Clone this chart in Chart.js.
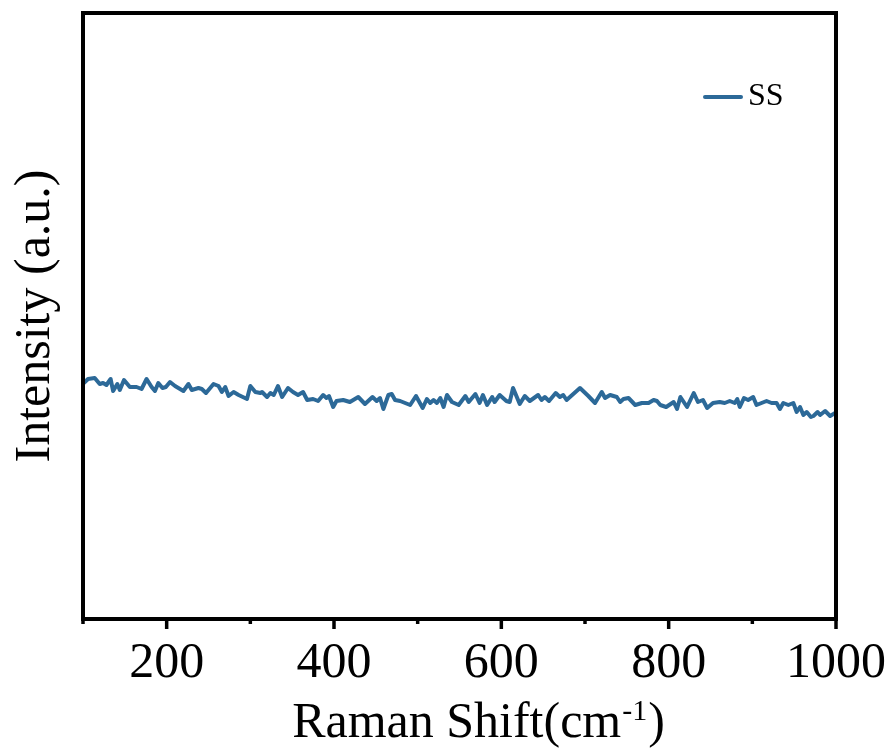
<!DOCTYPE html>
<html>
<head>
<meta charset="utf-8">
<script src="https://cdn.jsdelivr.net/npm/chart.js@4/dist/chart.umd.min.js"></script>
<style>
  html, body { margin: 0; padding: 0; background: #fff; }
  #wrap { width: 894px; height: 755px; }
</style>
</head>
<body>
<div id="wrap"><canvas id="c" width="894" height="755"></canvas></div>
<script>
// Raman spectrum of SS, x in cm-1, y in arbitrary units
const shift = [
  101, 106, 114, 120, 124, 128, 133, 136, 141, 144, 149, 156, 164, 170, 176, 182, 186, 190, 195, 199,
  204, 210, 220, 226, 230, 238, 242, 247, 256, 262, 266, 270, 274, 280, 286, 296, 300, 306, 312, 314,
  320, 324, 328, 333, 338, 345, 351, 357, 363, 368, 375, 381, 387, 391, 394, 399, 403, 411, 419, 427,
  429, 437, 446, 451, 455, 459, 465, 469, 473, 479, 491, 498, 506, 511, 515, 519, 523, 527, 531, 535,
  541, 549, 557, 561, 569, 574, 578, 583, 589, 592, 598, 606, 610, 614, 622, 628, 634, 644, 648, 652,
  657, 665, 670, 674, 678, 694, 704, 712, 720, 724, 730, 738, 742, 746, 752, 760, 768, 776, 782, 786,
  790, 797, 806, 810, 814, 822, 830, 835, 841, 846, 853, 861, 867, 873, 879, 882, 885, 890, 895, 901,
  905, 911, 917, 923, 929, 933, 937, 943, 949, 953, 957, 961, 965, 970, 973, 978, 981, 987, 993, 999
];
const intensity = [
  236, 240, 241, 235, 236, 234, 240, 228, 235, 229, 239, 232, 232, 230, 240, 232, 228, 236, 231, 232,
  237, 233, 228, 235, 229, 231, 230, 226, 235, 233, 227, 232, 223, 227, 224, 220, 233, 227, 226, 227,
  222, 226, 224, 233, 222, 231, 227, 224, 227, 219, 220, 218, 224, 221, 223, 212, 218, 219, 217, 221,
  222, 215, 222, 218, 221, 210, 224, 225, 219, 218, 214, 223, 211, 220, 216, 219, 216, 221, 212, 224,
  217, 214, 223, 217, 225, 216, 224, 214, 222, 217, 224, 218, 217, 231, 215, 223, 218, 224, 219, 222,
  218, 226, 222, 224, 219, 231, 223, 216, 227, 221, 224, 222, 217, 220, 221, 214, 216, 216, 219, 218,
  214, 212, 217, 210, 222, 212, 226, 217, 219, 211, 216, 217, 216, 218, 216, 220, 212, 221, 219, 222,
  214, 216, 218, 216, 216, 210, 216, 214, 216, 207, 212, 204, 207, 202, 203, 207, 204, 208, 203, 206
];
const seriesName = "SS";
const xMin = 100, xMax = 1000, xStep = 100;
const yMin = 0, yMax = 606;

const LINE = "#2c6998";
const SERIF = "'Liberation Serif', 'Times New Roman', serif";

// frame, outward ticks (long at 200s, short at odd hundreds), legend and the x title with superscript
const decor = {
  id: "decor",
  afterDatasetsDraw(chart) {
    const g = chart.ctx, a = chart.chartArea, xs = chart.scales.x;
    g.save();
    g.strokeStyle = "#000";
    g.lineWidth = 4;
    g.strokeRect(a.left, a.top, a.right - a.left, a.bottom - a.top);
    g.lineWidth = 3.5;
    for (let v = xMin; v <= xMax; v += xStep) {
      const px = xs.getPixelForValue(v);
      const len = v % 200 === 0 ? 10 : 5;
      g.beginPath();
      g.moveTo(px, a.bottom);
      g.lineTo(px, a.bottom + len);
      g.stroke();
    }
    // legend
    const lx = a.right - 131, ly = a.top + 84;
    g.strokeStyle = LINE;
    g.lineWidth = 4;
    g.lineCap = "round";
    g.beginPath();
    g.moveTo(lx, ly);
    g.lineTo(lx + 36, ly);
    g.stroke();
    g.fillStyle = "#000";
    g.font = `32px ${SERIF}`;
    g.textBaseline = "alphabetic";
    g.fillText(seriesName, lx + 43, ly + 8);
    // x title
    const main = "Raman Shift(cm", sup = "-1", close = ")";
    g.font = `50px ${SERIF}`;
    const w1 = g.measureText(main).width, w3 = g.measureText(close).width;
    g.font = `30px ${SERIF}`;
    const w2 = g.measureText(sup).width;
    const total = w1 + w2 + w3;
    let x = (a.left + a.right) / 2 + 18 - total / 2;
    const base = 737;
    g.font = `50px ${SERIF}`;
    g.fillText(main, x, base);
    g.font = `30px ${SERIF}`;
    g.fillText(sup, x + w1 + 1, base - 17);
    g.font = `50px ${SERIF}`;
    g.fillText(close, x + w1 + w2 + 2, base);
    g.restore();
  },
};

new Chart(document.getElementById("c"), {
  type: "line",
  data: {
    datasets: [{
      label: seriesName,
      data: shift.map((s, i) => ({ x: s, y: intensity[i] })),
      borderColor: LINE,
      borderWidth: 4,
      borderJoinStyle: "round",
      pointRadius: 0,
      tension: 0,
      fill: false,
    }],
  },
  options: {
    responsive: false,
    devicePixelRatio: 1,
    animation: false,
    layout: { padding: { top: 13, right: 58, left: 0, bottom: 0 } },
    plugins: { legend: { display: false }, tooltip: { enabled: false } },
    scales: {
      x: {
        type: "linear",
        min: xMin, max: xMax,
        border: { display: false },
        grid: { display: false, drawTicks: false },
        ticks: {
          stepSize: xStep,
          autoSkip: false,
          maxRotation: 0,
          padding: 15,
          color: "#000",
          font: { family: SERIF, size: 50 },
          callback: (v) => (v % 200 === 0 ? String(v) : ""),
        },
        afterFit: (s) => { s.height = 136; s.paddingLeft = 0; s.paddingRight = 0; },
      },
      y: {
        min: yMin, max: yMax,
        border: { display: false },
        grid: { display: false, drawTicks: false },
        ticks: { display: false },
        title: {
          display: true,
          text: "Intensity (a.u.)",
          color: "#000",
          font: { family: SERIF, size: 50 },
          padding: { top: 6, bottom: 0 },
        },
        afterFit: (s) => { s.width = 83; },
      },
    },
  },
  plugins: [decor],
});
</script>
</body>
</html>
